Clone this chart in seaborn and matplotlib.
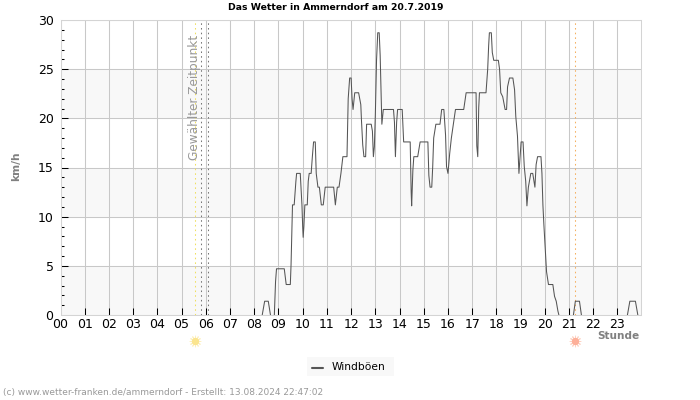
import matplotlib
matplotlib.use('Agg')
import matplotlib.pyplot as plt
import seaborn as sns
import pandas as pd

# Windböen (hour, km/h), one list per connected piece
hours_a = [8.33, 8.43, 8.58, 8.67]
gust_a = [0, 1.4, 1.4, 0]

hours_b = [8.83, 8.88, 8.92, 9.24, 9.32, 9.49, 9.52, 9.56, 9.58, 9.65, 9.72, 9.75, 9.90, 9.93, 9.97,
           10.0, 10.02, 10.05, 10.09, 10.19, 10.23, 10.27, 10.35, 10.40, 10.45, 10.52, 10.56, 10.63,
           10.69, 10.77, 10.85, 10.93, 11.28, 11.35, 11.43, 11.50, 11.58, 11.66, 11.83, 11.88, 11.94,
           12.0, 12.04, 12.08, 12.15, 12.31, 12.40, 12.43, 12.48, 12.53, 12.60, 12.64, 12.83, 12.88,
           12.92, 12.96, 13.0, 13.05, 13.10, 13.16, 13.20, 13.25, 13.27, 13.33, 13.75, 13.79, 13.83,
           13.88, 13.92, 14.11, 14.17, 14.21, 14.44, 14.48, 14.50, 14.55, 14.59, 14.75, 14.85, 15.17,
           15.21, 15.26, 15.33, 15.37, 15.41, 15.50, 15.67, 15.74, 15.83, 15.90, 15.94, 16.0, 16.07,
           16.14, 16.31, 16.65, 16.75, 17.16, 17.19, 17.23, 17.27, 17.30, 17.57, 17.64, 17.68, 17.71,
           17.79, 17.83, 17.89, 18.08, 18.13, 18.18, 18.26, 18.36, 18.42, 18.46, 18.54, 18.68, 18.75,
           18.80, 18.87, 18.93, 18.97, 19.02, 19.10, 19.15, 19.21, 19.26, 19.32, 19.42, 19.50, 19.59,
           19.64, 19.70, 19.84, 19.88, 19.92, 19.96, 20.01, 20.07, 20.15, 20.33, 20.40, 20.47, 20.54, 20.58]
gust_b = [0, 3.4, 4.7, 4.7, 3.1, 3.1, 5.1, 9.2, 11.2, 11.2, 13.6, 14.4, 14.4, 13.0, 11.2,
          9.0, 7.9, 9.0, 11.2, 11.2, 13.6, 14.4, 14.4, 16.1, 17.6, 17.6, 14.4, 13.0,
          13.0, 11.2, 11.2, 13.0, 13.0, 11.2, 13.0, 13.0, 14.4, 16.1, 16.1, 22.0, 24.1,
          24.1, 22.0, 20.9, 22.6, 22.6, 21.4, 19.7, 17.3, 16.1, 16.1, 19.4, 19.4, 18.7,
          16.1, 17.1, 20.3, 25.9, 28.7, 28.7, 26.4, 21.7, 19.4, 20.9, 20.9, 19.6, 16.1,
          19.6, 20.9, 20.9, 17.6, 17.6, 17.6, 12.5, 11.1, 14.7, 16.1, 16.1, 17.6, 17.6,
          14.2, 13.0, 13.0, 15.1, 18.0, 19.4, 19.4, 20.9, 20.9, 18.3, 15.1, 14.4, 16.4,
          18.0, 20.9, 20.9, 22.6, 22.6, 17.2, 16.1, 21.1, 22.6, 22.6, 25.0, 27.4, 28.7,
          28.7, 26.7, 25.9, 25.9, 25.0, 22.6, 22.2, 20.9, 20.9, 23.2, 24.1, 24.1, 22.9,
          20.2, 18.2, 14.4, 15.8, 17.6, 17.6, 15.1, 13.6, 11.1, 13.0, 14.4, 14.4, 13.0,
          15.3, 16.1, 16.1, 14.4, 11.2, 9.2, 7.0, 4.4, 3.1, 3.1, 1.9, 1.4, 0.4, 0]

hours_c = [21.18, 21.26, 21.43, 21.51]
gust_c = [0, 1.4, 1.4, 0]

hours_d = [23.41, 23.51, 23.74, 23.84]
gust_d = [0, 1.4, 1.4, 0]

hour_labels = ['%02d' % h for h in range(24)]
speed_ticks = [0, 5, 10, 15, 20, 25, 30]
sunrise = 5.56
sunset = 21.25
selected = [5.81, 6.09]

pieces = [(hours_a, gust_a), (hours_b, gust_b), (hours_c, gust_c), (hours_d, gust_d)]
df = pd.concat([pd.DataFrame({'hour': h, 'gust': g, 'piece': i}) for i, (h, g) in enumerate(pieces)])

sns.set_theme(style='white')
plt.rcParams['font.family'] = ['DejaVu Sans']

fig = plt.figure(figsize=(7, 4), dpi=100)
ax = fig.add_axes([60.5 / 700, 85 / 400, 580 / 700, 295 / 400])

# grey bands every second 5 km/h
for lo in [0, 10, 20]:
    ax.axhspan(lo, lo + 5, color='#f8f8f8', lw=0, zorder=0)
ax.grid(True, color='#c8c8c8', lw=0.75)
ax.set_axisbelow(True)

for x, c in [(sunrise, '#f0e060'), (selected[0], '#777777'), (selected[1], '#777777'), (sunset, '#f5b060')]:
    ax.axvline(x, color=c, lw=0.75, ls=(0, (1.5, 3)), zorder=1)

sns.lineplot(data=df, x='hour', y='gust', units='piece', estimator=None, color='#555555', lw=0.75, ax=ax, zorder=3)

ax.set_xlim(0, 23.95)
ax.set_ylim(0, 30)
ax.set_xticks(range(24))
ax.set_xticklabels(hour_labels, fontsize=9, color='black')
ax.set_yticks(speed_ticks)
ax.set_yticklabels(speed_ticks, fontsize=9, color='black')
ax.set_yticks([v for v in range(1, 30) if v % 5], minor=True)
ax.tick_params(axis='x', direction='in', length=5, width=0.75, color='black', pad=2.5, bottom=True)
ax.tick_params(axis='y', which='major', direction='in', length=5, width=0.75, color='black', pad=5, left=True)
ax.tick_params(axis='y', which='minor', direction='in', length=2.5, width=0.75, color='black', left=True)
# the frame corners carry no tick marks
ax.xaxis.get_major_ticks()[0].tick1line.set_visible(False)
ax.yaxis.get_major_ticks()[0].tick1line.set_visible(False)
ax.yaxis.get_major_ticks()[-1].tick1line.set_visible(False)
ax.set_xlabel('')
ax.set_ylabel('')
for s in ax.spines.values():
    s.set_color('#d4d4d4')
    s.set_linewidth(0.75)

ax.text(5.55, 28.45, 'Gewählter Zeitpunkt', rotation=90, ha='center', va='top', fontsize=8.7, color='#999999', zorder=2)

fig.text(336 / 700, 1 - 8 / 400, 'Das Wetter in Ammerndorf am 20.7.2019', ha='center', va='center', fontsize=6.7, fontweight='bold', color='black')
fig.text(16 / 700, 1 - 166 / 400, 'km/h', rotation=90, ha='center', va='center', fontsize=7.7, fontweight='bold', color='#808080')
fig.text(639 / 700, 1 - 336 / 400, 'Stunde', ha='right', va='center', fontsize=7.6, fontweight='bold', color='#808080')
fig.text(3 / 700, 1 - 393 / 400, '(c) www.wetter-franken.de/ammerndorf - Erstellt: 13.08.2024 22:47:02', ha='left', va='center', fontsize=6.5, color='#999999')

# sun icons below the axis
trans = ax.get_xaxis_transform()
for x, c, r in [(sunrise, '#fbe58f', '#fdf0c0'), (sunset, '#fdb09a', '#fdd3c4')]:
    ax.scatter([x], [-0.089], s=60, marker=(12, 2, 0), color=r, lw=0.7, transform=trans, clip_on=False, zorder=4)
    ax.scatter([x], [-0.089], s=28, marker='o', color=c, lw=0, transform=trans, clip_on=False, zorder=5)

# legend box
fig.patches.append(plt.Rectangle((307 / 700, 1 - 376 / 400), 87 / 700, 19 / 400, transform=fig.transFigure, facecolor='#f8f8f8', edgecolor='none'))
fig.add_artist(plt.Line2D([312 / 700, 323 / 700], [1 - 367.5 / 400] * 2, color='#555555', lw=1.5))
fig.text(332 / 700, 1 - 366.5 / 400, 'Windböen', ha='left', va='center', fontsize=7.7, color='black')

fig.savefig('out.png', dpi=100, facecolor='white')
